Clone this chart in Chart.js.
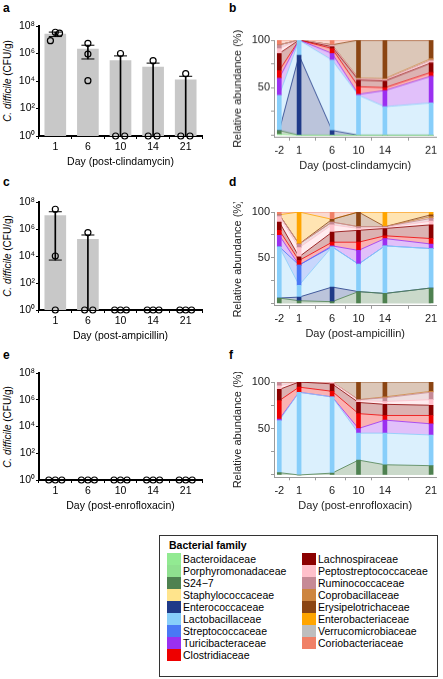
<!DOCTYPE html>
<html>
<head>
<meta charset="utf-8">
<script src="https://cdn.jsdelivr.net/npm/chart.js@4.4.1/dist/chart.umd.min.js"></script>
<style>
  body { margin: 0; width: 443px; height: 679px; background: #fff; position: relative; overflow: hidden;
         font-family: "Liberation Sans", Arial, sans-serif; color: #000; }
  .panel { position: absolute; }
  .letter { position: absolute; font-weight: bold; font-size: 12px; line-height: 12px; }
  .ytitle { position: absolute; font-size: 10px; white-space: nowrap; transform: translate(-50%, -50%) rotate(-90deg); }
  #legend { position: absolute; left: 159px; top: 535px; width: 277px; height: 140px; border: 1px solid #333; font-size: 10.5px; }
  #legend .head { position: absolute; left: 9px; top: 3px; font-weight: bold; }
  #legend .item { position: absolute; height: 12px; line-height: 12px; white-space: nowrap; }
  #legend .sw { display: inline-block; width: 14px; height: 12px; vertical-align: top; margin-right: 2px; }
</style>
</head>
<body>
<div class="letter" style="left:3px;top:2px">a</div>
<div class="letter" style="left:229px;top:2px">b</div>
<div class="letter" style="left:3px;top:176px">c</div>
<div class="letter" style="left:229px;top:176px">d</div>
<div class="letter" style="left:3px;top:349px">e</div>
<div class="letter" style="left:229px;top:349px">f</div>

<div class="ytitle" style="left:7px;top:81px"><i>C. difficile</i> (CFU/g)</div>
<div class="ytitle" style="left:7px;top:256px"><i>C. difficile</i> (CFU/g)</div>
<div class="ytitle" style="left:7px;top:427px"><i>C. difficile</i> (CFU/g)</div>

<div class="panel" id="pa"><canvas id="ca"></canvas></div>
<div class="panel" id="pb"><canvas id="cb"></canvas></div>
<div class="panel" id="pc"><canvas id="cc"></canvas></div>
<div class="panel" id="pd"><canvas id="cd"></canvas></div>
<div class="panel" id="pe"><canvas id="ce"></canvas></div>
<div class="panel" id="pf"><canvas id="cf"></canvas></div>
<div id="legend"><div class="head">Bacterial family</div></div>

<script>
// ---- C. difficile counts (CFU/g) ----
const cdDays = ['1', '6', '10', '14', '21'];

const clindaMean = [2.6e7, 2.1e6, 3.0e5, 1.05e5, 1.2e4];
const clindaUpper = [3.6e7, 4.0e6, 6.7e5, 2.0e5, 2.2e4];
const clindaLower = [1.7e7, 4.0e5, null, null, null];
const clindaPoints = [[8.5e6, 3.5e7, 3.0e7], [5.5e6, 9.1e5, 1.05e4], [1, 1.0e6, 1], [1, 3.0e5, 1], [1, 3.4e4, 1]];

const ampiMean = [9.7e6, 1.75e5, null, null, null];
const ampiUpper = [1.9e7, 3.6e5, null, null, null];
const ampiLower = [5.0e3, null, null, null, null];
const ampiPoints = [[2.9e7, 1.0e4, 1], [1, 5.4e5, 1], [1, 1, 1], [1, 1, 1], [1, 1, 1]];

const enroMean = [null, null, null, null, null];
const enroUpper = [null, null, null, null, null];
const enroLower = [null, null, null, null, null];
const enroPoints = [[1, 1, 1], [1, 1, 1], [1, 1, 1], [1, 1, 1], [1, 1, 1]];

// ---- relative abundance (%), one row per family, columns = abundanceDays ----
const abundanceDays = [-2, 1, 6, 10, 14, 21];
const families = ['Bacteroidaceae', 'Porphyromonadaceae', 'S24\u22127', 'Staphylococcaceae', 'Enterococcaceae',
  'Lactobacillaceae', 'Streptococcaceae', 'Turicibacteraceae', 'Clostridiaceae', 'Lachnospiraceae',
  'Peptostreptococcaceae', 'Ruminococcaceae', 'Coprobacillaceae', 'Erysipelotrichaceae', 'Enterobacteriaceae',
  'Verrucomicrobiaceae', 'Coriobacteriaceae'];
const familyColors = ['#92ea92', '#8fe08f', '#4e8150', '#ffe48c', '#1f3a88', '#87cefa', '#4a78f5', '#9a30f0',
  '#ee0000', '#8b0000', '#ffc0cb', '#c68a96', '#cd8540', '#8b4513', '#ffa500', '#bebebe', '#f08066'];

const clindaAbund = [
  [1, 0, 0, 0, 0, 0],
  [0, 0, 0, 0, 0, 0],
  [4, 0, 0, 0, 0, 0],
  [0, 0, 0, 0, 0, 0],
  [0, 84, 5, 0, 0, 0],
  [37, 16, 74, 42, 30, 34],
  [0, 0, 0, 0, 0, 0],
  [18, 0, 7, 1, 17, 28],
  [8, 0, 5, 8, 3, 4],
  [18, 0, 2, 7, 7, 10],
  [5, 0, 1, 1, 1, 2],
  [4, 0, 1, 0.5, 0.5, 1],
  [0, 0, 0, 0.5, 1, 1.5],
  [0, 0, 0, 40, 40.5, 19.5],
  [0, 0, 0, 0, 0, 0],
  [0, 0, 0, 0, 0, 0],
  [5, 0, 5, 0, 0, 0]
];
const ampiAbund = [
  [0, 0, 0, 0, 0, 0],
  [0, 0, 0, 0, 0, 0],
  [6, 3, 2, 13, 11, 17],
  [0, 0, 0, 0, 0, 0],
  [0, 4, 16, 0, 0, 0],
  [56, 13, 44, 30, 52, 43],
  [0, 22, 0, 0, 0, 0],
  [12.5, 0, 1, 15, 8, 5],
  [5.5, 5, 4, 9, 3, 6],
  [9, 4, 11, 13, 8, 15],
  [6, 10, 8, 2, 1, 4],
  [2, 4, 3, 2, 1, 3],
  [0, 0, 0, 0, 0, 2],
  [0, 0, 3, 16, 0, 2],
  [0, 35, 0, 0, 16, 3],
  [0, 0, 0, 0, 0, 0],
  [3, 0, 8, 0, 0, 0]
];
const enroAbund = [
  [0, 0, 0, 0, 0, 0],
  [0, 0, 0, 0, 0, 0],
  [2.5, 0, 2, 16, 11, 10],
  [0, 0, 0, 0, 0, 0],
  [0, 0, 0, 0, 0, 0],
  [56, 89, 82, 29, 34, 33],
  [0, 0, 0, 0, 0, 0],
  [1.5, 0, 0, 5, 14, 12],
  [20, 5.5, 6, 16, 5, 9],
  [12, 5.5, 8, 12, 12, 11],
  [4, 0, 2, 2, 3, 6],
  [4, 0, 0, 1, 4, 8],
  [0, 0, 0, 0, 1, 1],
  [0, 0, 0, 19, 16, 10],
  [0, 0, 0, 0, 0, 0],
  [0, 0, 0, 0, 0, 0],
  [0, 0, 0, 0, 0, 0]
];

const FONT = '"Liberation Sans", Arial, sans-serif';
const sup = { 0: '\u2070', 2: '\u00b2', 4: '\u2074', 6: '\u2076', 8: '\u2078' };

function fixWidth(w) {
  return s => { s.width = w; s.paddingTop = 0; s.paddingBottom = 0; };
}
function fixHeight(h) {
  return s => { s.height = h; s.paddingLeft = 0; s.paddingRight = 0; };
}
function alpha(hex, a) {
  const n = parseInt(hex.slice(1), 16);
  return `rgba(${n >> 16},${(n >> 8) & 255},${n & 255},${a})`;
}

function cfuPanel(id, canvasId, title, mean, upper, lower, points, jitter, top, bottom) {
  const el = document.getElementById(id);
  const padTop = 10, xH = 32;
  el.style.left = '0px';
  el.style.width = '220px';
  el.style.top = (top - padTop) + 'px';
  el.style.height = (padTop + bottom - top + xH + 2) + 'px';

  const barData = [], errData = [], capData = [], ptData = [];
  mean.forEach((m, i) => {
    if (m) barData.push({ x: i + 1, y: m });
    if (upper[i]) {
      errData.push({ x: i + 1, y: [lower[i] || 1, upper[i]] });
      capData.push({ x: i + 1, y: upper[i] });
      if (lower[i]) capData.push({ x: i + 1, y: lower[i] });
    }
    points[i].forEach((v, k) => ptData.push({ x: i + 1 + jitter[i][k], y: v }));
  });

  const axisGrid = { drawOnChartArea: false, drawTicks: true, tickLength: 3, color: '#000', lineWidth: 1 };
  new Chart(document.getElementById(canvasId), {
    type: 'bar',
    data: {
      datasets: [
        { type: 'scatter', data: ptData, pointStyle: 'circle', pointRadius: 3, borderColor: '#000',
          backgroundColor: 'rgba(0,0,0,0)', borderWidth: 1.2, clip: false, order: 0 },
        { type: 'scatter', data: capData, pointStyle: 'line', pointRadius: 6.5, borderColor: '#000',
          borderWidth: 1, clip: false, order: 1 },
        { data: errData, backgroundColor: '#000', barThickness: 1, grouped: false, order: 2 },
        { data: barData, backgroundColor: '#c8c8c8', barThickness: 21, grouped: false, order: 3 }
      ]
    },
    options: {
      animation: false, responsive: true, maintainAspectRatio: false,
      layout: { padding: { top: padTop, left: 0, right: 18, bottom: 2 } },
      plugins: { legend: { display: false }, tooltip: { enabled: false } },
      scales: {
        x: {
          type: 'linear', min: 0.5, max: 5.5, offset: false,
          afterBuildTicks: s => { s.ticks = cdDays.map((d, i) => ({ value: i + 1 })); },
          ticks: { callback: v => cdDays[v - 1], color: '#000', padding: 2, font: { family: FONT, size: 10.5 } },
          grid: axisGrid,
          border: { display: true, color: '#000', width: 2 },
          title: { display: true, text: title, color: '#000', padding: 0, font: { family: FONT, size: 10.5 } },
          afterFit: fixHeight(xH)
        },
        y: {
          type: 'logarithmic', min: 1, max: 1e8,
          afterBuildTicks: s => { s.ticks = [1, 1e2, 1e4, 1e6, 1e8].map(v => ({ value: v })); },
          ticks: { callback: v => '10' + sup[Math.round(Math.log10(v))], color: '#000', padding: 1,
                   font: { family: FONT, size: 10.5 } },
          grid: axisGrid,
          border: { display: true, color: '#000', width: 2 },
          afterFit: fixWidth(39)
        }
      }
    }
  });
}

function abundancePanel(id, canvasId, title, rows, top, bottom) {
  const el = document.getElementById(id);
  const padTop = 10, xH = 35;
  el.style.left = '226px';
  el.style.width = '217px';
  el.style.top = (top - padTop) + 'px';
  el.style.height = (padTop + bottom - top + xH + 1) + 'px';

  const used = families.map((f, i) => i).filter(i => rows[i].some(v => v > 0));
  const lines = used.map((fi, k) => ({
    type: 'line',
    data: abundanceDays.map((d, j) => ({ x: d, y: rows[fi][j] })),
    borderColor: familyColors[fi], borderWidth: 0.8,
    backgroundColor: alpha(familyColors[fi], 0.3),
    fill: k === 0 ? 'origin' : '-1',
    pointRadius: 0, tension: 0, order: 1
  }));
  const bars = used.map(fi => ({
    type: 'bar',
    data: abundanceDays.map((d, j) => ({ x: d, y: rows[fi][j] })),
    backgroundColor: familyColors[fi], barThickness: 4, grouped: false, order: 0
  }));

  const axisGrid = { drawOnChartArea: false, drawTicks: true, tickLength: 3, color: '#9a9a9a', lineWidth: 1 };
  new Chart(document.getElementById(canvasId), {
    type: 'line',
    data: { datasets: lines.concat(bars) },
    options: {
      animation: false, responsive: true, maintainAspectRatio: false,
      layout: { padding: { top: padTop, left: 0, right: 6.6, bottom: 1 } },
      plugins: { legend: { display: false }, tooltip: { enabled: false } },
      scales: {
        x: {
          type: 'linear', min: -2.8, max: 21.8, offset: false,
          afterBuildTicks: s => { s.ticks = abundanceDays.map(v => ({ value: v })); },
          ticks: { callback: v => String(v), color: '#222', padding: 4, font: { family: FONT, size: 11 } },
          grid: axisGrid,
          border: { display: true, color: '#9a9a9a', width: 1 },
          title: { display: true, text: title, color: '#222', padding: 0, font: { family: FONT, size: 11 } },
          afterFit: fixHeight(xH)
        },
        y: {
          stacked: true, min: -2.5, max: 100,
          afterBuildTicks: s => { s.ticks = [0, 25, 50, 75, 100].map(v => ({ value: v })); },
          ticks: { callback: v => (v === 50 || v === 100 ? String(v) : ''), color: '#222', padding: 1,
                   font: { family: FONT, size: 11 } },
          grid: axisGrid,
          border: { display: true, color: '#9a9a9a', width: 1 },
          title: { display: true, text: 'Relative abundance (%)', color: '#222', padding: { top: 5, bottom: 0 },
                   font: { family: FONT, size: 11 } },
          afterFit: fixWidth(48)
        }
      }
    }
  });
}

const jitterA = [[-0.15, 0, 0.13], [0, 0, 0], [-0.15, 0, 0.13], [-0.15, 0, 0.12], [-0.15, 0, 0.13]];
const jitterC = [[0, 0, 0], [-0.1, 0, 0.15], [-0.18, 0, 0.18], [-0.18, 0, 0.18], [-0.18, 0, 0.18]];
const jitterE = [[-0.2, 0, 0.2], [-0.2, 0, 0.2], [-0.2, 0, 0.2], [-0.2, 0, 0.2], [-0.2, 0, 0.2]];

cfuPanel('pa', 'ca', 'Day (post-clindamycin)', clindaMean, clindaUpper, clindaLower, clindaPoints, jitterA, 26, 136);
cfuPanel('pc', 'cc', 'Day (post-ampicillin)', ampiMean, ampiUpper, ampiLower, ampiPoints, jitterC, 202, 310);
cfuPanel('pe', 'ce', 'Day (post-enrofloxacin)', enroMean, enroUpper, enroLower, enroPoints, jitterE, 373, 480);

abundancePanel('pb', 'cb', 'Day (post-clindamycin)', clindaAbund, 40, 136.8);
abundancePanel('pd', 'cd', 'Day (post-ampicillin)', ampiAbund, 211.7, 305.5);
abundancePanel('pf', 'cf', 'Day (post-enrofloxacin)', enroAbund, 381.7, 477);

// legend
const legend = document.getElementById('legend');
families.forEach((f, i) => {
  const col = i < 9 ? 0 : 1;
  const row = i < 9 ? i : i - 9;
  const item = document.createElement('div');
  item.className = 'item';
  item.style.left = (col === 0 ? 7 : 142) + 'px';
  item.style.top = (17 + row * 12) + 'px';
  item.innerHTML = `<span class="sw" style="background:${familyColors[i]}"></span>${f}`;
  legend.appendChild(item);
});
</script>
</body>
</html>
